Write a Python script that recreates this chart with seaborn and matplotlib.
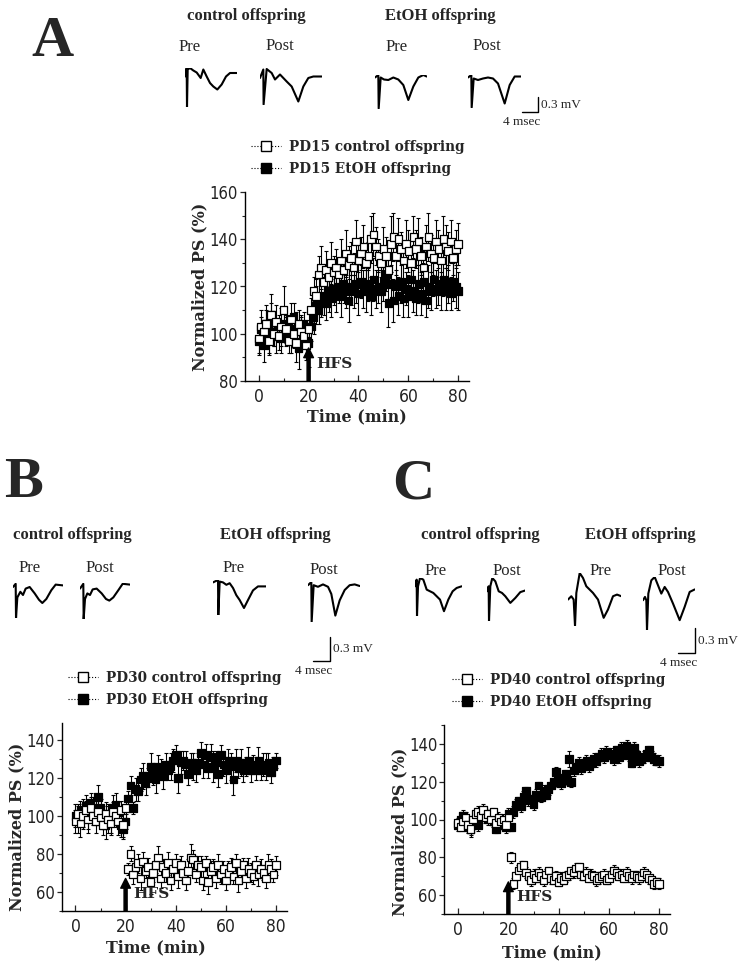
import matplotlib
matplotlib.use('Agg')
import matplotlib.pyplot as plt
import seaborn as sns
import pandas as pd
from matplotlib.lines import Line2D

W, H = 745, 964
sns.set_theme(style='ticks')
plt.rcParams['font.family'] = ['Liberation Serif', 'DejaVu Serif']

# ---------------- time course data (normalized PS %) ----------------
time_min = list(range(0, 81))

a_ctrl = [98, 103, 101, 104, 97, 108, 100, 105, 99, 103, 110, 102, 97, 106, 100, 96, 104, 101, 99, 95, 102,
          110, 118, 116, 125, 128, 122, 127, 124, 130, 126, 128, 125, 131, 127, 134, 129, 132, 128, 139, 131,
          134, 137, 130, 133, 140, 142, 137, 133, 130, 136, 133, 127, 138, 141, 133, 140, 136, 131, 138, 135,
          130, 141, 136, 139, 133, 128, 137, 141, 134, 132, 139, 136, 131, 140, 137, 135, 139, 132, 136, 138]
a_ctrl_err = [6, 7, 5, 8, 6, 9, 5, 7, 6, 8, 10, 6, 5, 7, 6, 8, 6, 7, 5, 6, 7,
              5, 6, 7, 8, 9, 7, 8, 6, 9, 7, 8, 7, 9, 6, 10, 8, 7, 6, 9, 8,
              7, 9, 8, 6, 10, 9, 8, 7, 6, 9, 8, 7, 12, 10, 8, 9, 7, 8, 10, 9,
              7, 9, 8, 10, 8, 7, 9, 10, 8, 7, 9, 8, 7, 10, 9, 8, 9, 7, 8, 9]
a_etoh = [97, 102, 95, 104, 100, 108, 101, 99, 103, 98, 104, 101, 103, 100, 107, 102, 94, 101, 104, 97, 96,
          103, 107, 112, 110, 114, 116, 113, 118, 115, 119, 117, 120, 116, 121, 118, 114, 120, 118, 121, 117,
          122, 119, 118, 121, 116, 123, 119, 120, 118, 122, 125, 113, 121, 114, 120, 116, 122, 115, 119, 116,
          123, 118, 115, 121, 117, 122, 114, 120, 118, 123, 119, 121, 118, 123, 119, 121, 117, 122, 120, 118]
a_etoh_err = [6, 5, 7, 6, 8, 5, 6, 7, 5, 6, 7, 6, 5, 8, 6, 7, 9, 6, 5, 7, 10,
              6, 7, 8, 6, 7, 8, 7, 9, 8, 7, 8, 7, 9, 8, 7, 9, 8, 7, 8, 9,
              7, 8, 9, 7, 8, 9, 8, 7, 9, 8, 7, 10, 8, 9, 7, 8, 9, 8, 7, 9,
              8, 9, 7, 8, 9, 8, 7, 9, 8, 7, 8, 9, 8, 7, 9, 8, 7, 8, 9, 8]

b_ctrl = [97, 101, 96, 100, 103, 98, 104, 100, 97, 102, 99, 95, 101, 98, 96, 102, 100, 97, 103, 95, 104,
          72, 80, 69, 73, 75, 67, 76, 71, 73, 65, 70, 74, 78, 67, 73, 70, 75, 66, 72, 75,
          68, 74, 70, 66, 71, 78, 77, 69, 74, 73, 66, 75, 65, 71, 73, 67, 74, 69, 72, 66,
          70, 73, 68, 75, 66, 71, 74, 67, 72, 70, 68, 74, 69, 72, 70, 67, 74, 72, 69, 74]
b_ctrl_err = [6, 5, 7, 6, 5, 7, 6, 5, 6, 7, 6, 5, 6, 7, 6, 5, 6, 7, 5, 6, 5,
              3, 4, 5, 4, 5, 6, 5, 4, 5, 6, 5, 4, 6, 5, 4, 5, 6, 5, 4, 5,
              6, 5, 4, 5, 6, 7, 5, 4, 5, 6, 5, 4, 6, 5, 4, 5, 6, 5, 4, 5,
              6, 5, 4, 5, 6, 5, 4, 5, 6, 5, 4, 5, 6, 5, 4, 5, 6, 5, 4, 5]
b_etoh = [100, 98, 103, 101, 105, 100, 107, 104, 102, 110, 104, 99, 95, 101, 97, 104, 106, 102, 95, 93, 97,
          109, 116, 104, 114, 113, 119, 121, 117, 120, 126, 122, 119, 126, 125, 121, 127, 124, 126, 129, 132,
          120, 128, 129, 127, 122, 128, 126, 124, 128, 133, 127, 132, 125, 131, 126, 128, 122, 132, 127, 124,
          129, 126, 119, 129, 125, 128, 124, 126, 129, 124, 127, 125, 129, 124, 127, 126, 128, 123, 126, 129]
b_etoh_err = [6, 7, 5, 8, 6, 7, 5, 6, 7, 6, 5, 6, 7, 5, 6, 7, 6, 5, 6, 5, 4,
              4, 5, 3, 6, 5, 6, 7, 6, 5, 7, 6, 7, 6, 5, 7, 6, 5, 7, 6, 5,
              8, 6, 5, 7, 6, 5, 7, 6, 5, 6, 7, 6, 5, 7, 8, 6, 7, 5, 6, 7,
              6, 7, 8, 6, 5, 7, 6, 5, 7, 6, 5, 6, 7, 5, 6, 7, 5, 6, 5, 4]

c_ctrl = [98, 96, 99, 101, 97, 95, 100, 103, 104, 102, 105, 101, 103, 100, 104, 98, 101, 99, 100, 97, 101,
          80, 66, 70, 73, 75, 76, 72, 70, 68, 71, 69, 72, 70, 68, 71, 73, 69, 68, 70, 67,
          69, 68, 70, 71, 73, 72, 74, 75, 71, 70, 72, 69, 71, 70, 68, 69, 70, 71, 68, 69,
          71, 73, 72, 70, 71, 69, 72, 70, 69, 71, 70, 69, 70, 72, 71, 69, 68, 66, 67, 66]
c_ctrl_err = [3, 2, 3, 3, 2, 3, 2, 3, 3, 2, 3, 3, 2, 3, 2, 3, 3, 2, 3, 2, 3,
              3, 3, 2, 3, 3, 2, 3, 2, 3, 3, 2, 3, 2, 3, 3, 2, 3, 2, 3, 2,
              3, 2, 3, 3, 2, 3, 3, 2, 3, 2, 3, 2, 3, 2, 3, 3, 2, 3, 2, 3,
              2, 3, 3, 2, 3, 2, 3, 2, 3, 2, 3, 3, 2, 3, 2, 3, 2, 3, 2, 3]
c_etoh = [97, 100, 102, 99, 96, 95, 98, 100, 97, 102, 104, 103, 100, 101, 99, 95, 100, 98, 97, 96, 103,
          96, 104, 108, 110, 107, 112, 115, 110, 111, 108, 113, 118, 112, 115, 113, 116, 118, 120, 125, 122,
          119, 121, 124, 132, 120, 126, 128, 130, 127, 129, 131, 128, 130, 132, 131, 133, 135, 133, 136, 134,
          135, 132, 137, 133, 138, 135, 139, 134, 130, 138, 134, 131, 132, 133, 135, 137, 133, 132, 131, 131]
c_etoh_err = [3, 4, 3, 2, 3, 4, 3, 2, 3, 4, 3, 2, 3, 4, 3, 2, 3, 3, 2, 3, 3,
              2, 3, 3, 2, 3, 3, 2, 3, 2, 3, 3, 2, 3, 3, 2, 3, 2, 3, 3, 2,
              3, 3, 2, 4, 3, 3, 2, 3, 3, 2, 3, 3, 2, 3, 3, 2, 3, 3, 3, 2,
              3, 3, 2, 3, 3, 3, 3, 3, 2, 3, 3, 3, 2, 3, 3, 2, 3, 3, 2, 3]

# ---------------- example field potential traces (ms, mV rel. to trace top) ----------------
a_ctrl_pre_t = [0, 0.42, 0.5, 0.67, 1.25, 2.08, 2.92, 3.92, 4.58, 5.42, 6.25, 7.08, 8.08, 9.17, 10.25, 11.25, 12.92]
a_ctrl_pre_v = [-0.17, 0, -0.78, -0.03, 0, -0.05, -0.09, -0.2, -0.03, -0.17, -0.3, -0.37, -0.43, -0.33, -0.17, -0.1, -0.1]
a_ctrl_post_t = [0, 0.83, 0.9, 1.67, 2.92, 3.75, 5, 6.67, 7.92, 9.58, 10.83, 12.08, 13.33, 15.42]
a_ctrl_post_v = [-0.2, -0.03, -0.73, -0.02, -0.1, -0.23, -0.13, -0.27, -0.37, -0.67, -0.37, -0.2, -0.17, -0.17]
a_etoh_pre_t = [0, 0.83, 0.92, 1.42, 2.25, 3.33, 4.58, 5.83, 7.08, 8.33, 9.58, 10.83, 12.08, 12.92]
a_etoh_pre_v = [-0.05, 0, -0.67, -0.05, -0.09, -0.1, -0.05, -0.09, -0.2, -0.5, -0.23, -0.05, 0, -0.03]
a_etoh_post_t = [0, 0.83, 0.92, 1.42, 2.5, 3.75, 5, 6.25, 7.5, 9.17, 10.42, 11.67, 13.33]
a_etoh_post_v = [-0.05, 0, -0.65, -0.07, -0.1, -0.07, -0.05, -0.07, -0.17, -0.57, -0.2, -0.03, -0.03]

b_ctrl_pre_t = [0, 0.63, 0.71, 1.02, 1.73, 2.35, 2.98, 3.92, 5.1, 6.12, 6.9, 7.84, 9.02, 10.04, 11.76]
b_ctrl_pre_v = [-0.05, -0.01, -0.44, -0.18, -0.11, -0.15, -0.07, -0.05, -0.13, -0.21, -0.25, -0.2, -0.09, -0.02, -0.03]
b_ctrl_post_t = [0, 0.78, 0.86, 1.18, 1.73, 2.35, 2.98, 3.92, 5.1, 6.12, 6.9, 7.84, 9.02, 10.04, 11.76]
b_ctrl_post_v = [-0.07, -0.01, -0.45, -0.2, -0.13, -0.15, -0.08, -0.07, -0.13, -0.2, -0.22, -0.18, -0.09, -0.01, -0.02]
b_etoh_pre_t = [0, 0.78, 1.18, 1.25, 1.57, 2.35, 3.14, 3.92, 4.71, 5.49, 6.27, 7.29, 8.24, 9.41, 10.59, 11.76, 12.55]
b_etoh_pre_v = [-0.03, -0.01, 0, -0.44, -0.02, -0.03, -0.06, -0.04, -0.1, -0.19, -0.25, -0.35, -0.25, -0.13, -0.08, -0.08, -0.08]
b_etoh_post_t = [0, 0.78, 0.86, 1.33, 2.35, 3.53, 4.71, 5.49, 6.43, 7.45, 8.63, 9.8, 10.98, 12.16]
b_etoh_post_v = [-0.04, 0, -0.5, -0.04, -0.06, -0.03, -0.06, -0.15, -0.42, -0.23, -0.1, -0.04, -0.03, -0.05]

c_ctrl_pre_t = [0, 0.39, 0.47, 0.71, 1.18, 1.96, 2.75, 3.53, 4.31, 5.1, 5.88, 6.82, 7.84, 8.86, 9.8, 10.98]
c_ctrl_pre_v = [-0.1, -0.02, -0.46, -0.1, 0, -0.02, -0.14, -0.16, -0.18, -0.22, -0.26, -0.4, -0.26, -0.16, -0.12, -0.1]
c_ctrl_post_t = [0, 0.39, 0.47, 0.78, 1.25, 1.96, 2.75, 3.53, 4.31, 5.49, 6.67, 7.84, 9.02]
c_ctrl_post_v = [-0.16, -0.1, -0.52, -0.1, 0, -0.04, -0.16, -0.18, -0.22, -0.3, -0.24, -0.17, -0.15]
c_etoh_pre_t = [0, 0.78, 1.33, 1.65, 1.96, 2.75, 3.53, 4.31, 5.1, 5.88, 7.06, 8.39, 9.41, 10.59, 11.53, 12.55]
c_etoh_pre_v = [-0.32, -0.28, -0.32, -0.64, -0.24, 0, -0.06, -0.16, -0.2, -0.24, -0.32, -0.54, -0.44, -0.28, -0.26, -0.28]
c_etoh_post_t = [0, 0.47, 0.78, 0.94, 1.25, 1.96, 2.75, 3.53, 4.31, 5.1, 5.88, 7.06, 8.63, 9.8, 10.98, 12.16]
c_etoh_post_v = [-0.28, -0.24, -0.28, -0.64, -0.2, -0.04, 0, -0.1, -0.2, -0.12, -0.18, -0.32, -0.52, -0.36, -0.18, -0.15]

scale_ms = 4
scale_mv = 0.3
hfs_time = 20

fig = plt.figure(figsize=(W / 100, H / 100), dpi=100)


def px_axes(left, top, width, height):
    return fig.add_axes([left / W, 1 - (top + height) / H, width / W, height / H])


def ftext(x, y, s, **kw):
    fig.text(x / W, 1 - y / H, s, **kw)


TICKFONT = ['Liberation Sans Narrow', 'DejaVu Sans']
LBL = dict(fontweight='bold', fontsize=11.5, family=['DejaVu Serif'])


def panel(box, ctrl, ctrl_err, etoh, etoh_err, ylim, yticks, arrow_tip, hfs_y):
    ax = px_axes(*box)
    n = len(time_min)
    df = pd.DataFrame({
        'time': time_min + time_min,
        'value': etoh + ctrl,
        'group': ['EtOH'] * n + ['control'] * n,
    })
    for vals, errs in ((etoh, etoh_err), (ctrl, ctrl_err)):
        ax.errorbar(time_min, vals, yerr=errs, fmt='none', ecolor='black',
                    elinewidth=0.8, capsize=1.6, capthick=0.8, zorder=2)
    sns.scatterplot(data=df, x='time', y='value', hue='group',
                    palette={'EtOH': 'black', 'control': 'white'}, marker='s',
                    s=30, edgecolor='black', linewidth=0.9, legend=False, ax=ax, zorder=3)
    ax.set_xlim(-5.5, 84.3)
    ax.set_xticks([0, 20, 40, 60, 80])
    ax.set_xticks(list(range(0, 81, 10)), minor=True)
    ax.set_yticks(yticks)
    ax.set_yticks(list(range(int(yticks[0]) - 10, int(ylim[1]) + 1, 10)), minor=True)
    ax.set_ylim(*ylim)
    ax.set_xlabel('')
    ax.set_ylabel('')
    ax.tick_params(axis='x', which='major', direction='in', length=4, width=0.9,
                   labelsize=12.5, pad=5, labelcolor='#222222', labelfontfamily=TICKFONT)
    ax.tick_params(axis='x', which='minor', direction='in', length=2.5, width=0.8)
    ax.tick_params(axis='y', which='major', direction='out', length=3.5, width=0.9,
                   labelsize=12, pad=1.5, labelcolor='#222222', labelfontfamily=TICKFONT)
    ax.tick_params(axis='y', which='minor', direction='out', length=2, width=0.8)
    for lbl in ax.get_xticklabels() + ax.get_yticklabels():
        lbl.set_fontstretch('condensed')
    for sp in ('left', 'bottom'):
        ax.spines[sp].set_linewidth(1.0)
        ax.spines[sp].set_color('black')
    sns.despine(ax=ax)
    ax.annotate('', xy=(hfs_time, arrow_tip), xytext=(hfs_time, ylim[0]),
                arrowprops=dict(facecolor='black', edgecolor='black', width=2.2,
                                headwidth=7, headlength=7, shrink=0),
                annotation_clip=False, zorder=5)
    ax.text(hfs_time + 3.0, hfs_y, 'HFS', fontweight='bold', fontsize=11,
            family=['DejaVu Serif'], va='center', ha='left', zorder=6)
    return ax


def trace(left, top, t, v, px_ms, px_mv):
    width = max(t) * px_ms
    height = -min(v) * px_mv
    ax = px_axes(left, top, width, height)
    ax.plot(t, v, color='black', lw=1.5)
    ax.set_xlim(0, max(t))
    ax.set_ylim(min(v), 0)
    ax.axis('off')


def scalebar(right, bottom, px_ms, px_mv):
    ax = px_axes(right - scale_ms * px_ms, bottom - scale_mv * px_mv, scale_ms * px_ms, scale_mv * px_mv)
    ax.plot([0, scale_ms, scale_ms], [0, 0, scale_mv], color='black', lw=1.0, clip_on=False)
    ax.set_xlim(0, scale_ms)
    ax.set_ylim(0, scale_mv)
    ax.axis('off')
    ax.annotate(f'{scale_mv} mV', xy=(scale_ms, scale_mv / 2), xytext=(2, 0), textcoords='offset points',
                ha='left', va='center', fontsize=9.5)
    ax.annotate(f'{scale_ms} msec', xy=(scale_ms, 0), xytext=(-12, -3), textcoords='offset points',
                ha='center', va='top', fontsize=9.5)


def legend(left, top, period):
    handles = [
        Line2D([], [], color='black', ls=':', lw=0.8, marker='s', markersize=7.5,
               markerfacecolor='white', markeredgecolor='black', markeredgewidth=1.0),
        Line2D([], [], color='black', ls=':', lw=0.8, marker='s', markersize=7.5,
               markerfacecolor='black', markeredgecolor='black'),
    ]
    labels = [f'{period} control offspring', f'{period} EtOH offspring']
    fig.legend(handles, labels, loc='upper left', bbox_to_anchor=(left / W, 1 - top / H),
               frameon=False, borderpad=0, borderaxespad=0, handlelength=2.2, handletextpad=0.6,
               labelspacing=0.6, prop=dict(family=['DejaVu Serif'], weight='bold', size=9.8))


TITLE = dict(fontweight='bold', fontsize=12, ha='center', va='center')
PP = dict(fontsize=12, ha='center', va='center')
LETTER = dict(fontweight='bold', fontsize=42, ha='left', va='baseline')

# ---------------- Panel A ----------------
ftext(31, 56, 'A', **LETTER)
ftext(246, 16, 'control offspring', **TITLE)
ftext(440, 16, 'EtOH offspring', **TITLE)
ftext(190, 47, 'Pre', **PP)
ftext(280, 46, 'Post', **PP)
ftext(397, 47, 'Pre', **PP)
ftext(487, 46, 'Post', **PP)
trace(185, 68, a_ctrl_pre_t, a_ctrl_pre_v, 4, 50)
trace(260, 68, a_ctrl_post_t, a_ctrl_post_v, 4, 50)
trace(375, 75, a_etoh_pre_t, a_etoh_pre_v, 4, 50)
trace(468, 75, a_etoh_post_t, a_etoh_post_v, 4, 50)
scalebar(538, 112, 4, 50)
legend(251, 140, 'PD15')
panel((245, 192, 224, 189), a_ctrl, a_ctrl_err, a_etoh, a_etoh_err,
      (80, 160), [80, 100, 120, 140, 160], 94, 87)
ftext(200, 287, 'Normalized PS (%)', rotation=90, ha='center', va='center', **LBL)
ftext(357, 417, 'Time (min)', ha='center', va='center', **LBL)

# ---------------- Panel B ----------------
ftext(4, 497, 'B', **LETTER)
ftext(72, 535, 'control offspring', **TITLE)
ftext(275, 535, 'EtOH offspring', **TITLE)
ftext(30, 568, 'Pre', **PP)
ftext(100, 568, 'Post', **PP)
ftext(234, 568, 'Pre', **PP)
ftext(324, 570, 'Post', **PP)
trace(13, 583, b_ctrl_pre_t, b_ctrl_pre_v, 4.25, 80)
trace(80, 583, b_ctrl_post_t, b_ctrl_post_v, 4.25, 80)
trace(213, 580, b_etoh_pre_t, b_etoh_pre_v, 4.25, 80)
trace(308, 582, b_etoh_post_t, b_etoh_post_v, 4.25, 80)
scalebar(330, 661, 4.25, 80)
legend(68, 671, 'PD30')
panel((61.7, 722.7, 225, 188), b_ctrl, b_ctrl_err, b_etoh, b_etoh_err,
      (50, 149), [60, 80, 100, 120, 140], 67, 59)
ftext(17, 827, 'Normalized PS (%)', rotation=90, ha='center', va='center', **LBL)
ftext(156, 948, 'Time (min)', ha='center', va='center', **LBL)

# ---------------- Panel C ----------------
ftext(392, 498, 'C', **LETTER)
ftext(480, 535, 'control offspring', **TITLE)
ftext(640, 535, 'EtOH offspring', **TITLE)
ftext(436, 571, 'Pre', **PP)
ftext(507, 571, 'Post', **PP)
ftext(601, 571, 'Pre', **PP)
ftext(672, 571, 'Post', **PP)
trace(415, 578, c_ctrl_pre_t, c_ctrl_pre_v, 4.25, 83)
trace(487, 578, c_ctrl_post_t, c_ctrl_post_v, 4.25, 83)
trace(568, 573, c_etoh_pre_t, c_etoh_pre_v, 4.25, 83)
trace(643, 577, c_etoh_post_t, c_etoh_post_v, 4.25, 83)
scalebar(695, 653, 4.25, 83)
legend(452, 673, 'PD40')
panel((444.3, 725, 225.7, 189), c_ctrl, c_ctrl_err, c_etoh, c_etoh_err,
      (50, 150), [60, 80, 100, 120, 140], 67, 59)
ftext(400, 832, 'Normalized PS (%)', rotation=90, ha='center', va='center', **LBL)
ftext(552, 953, 'Time (min)', ha='center', va='center', **LBL)

fig.savefig('out.png', dpi=100)
